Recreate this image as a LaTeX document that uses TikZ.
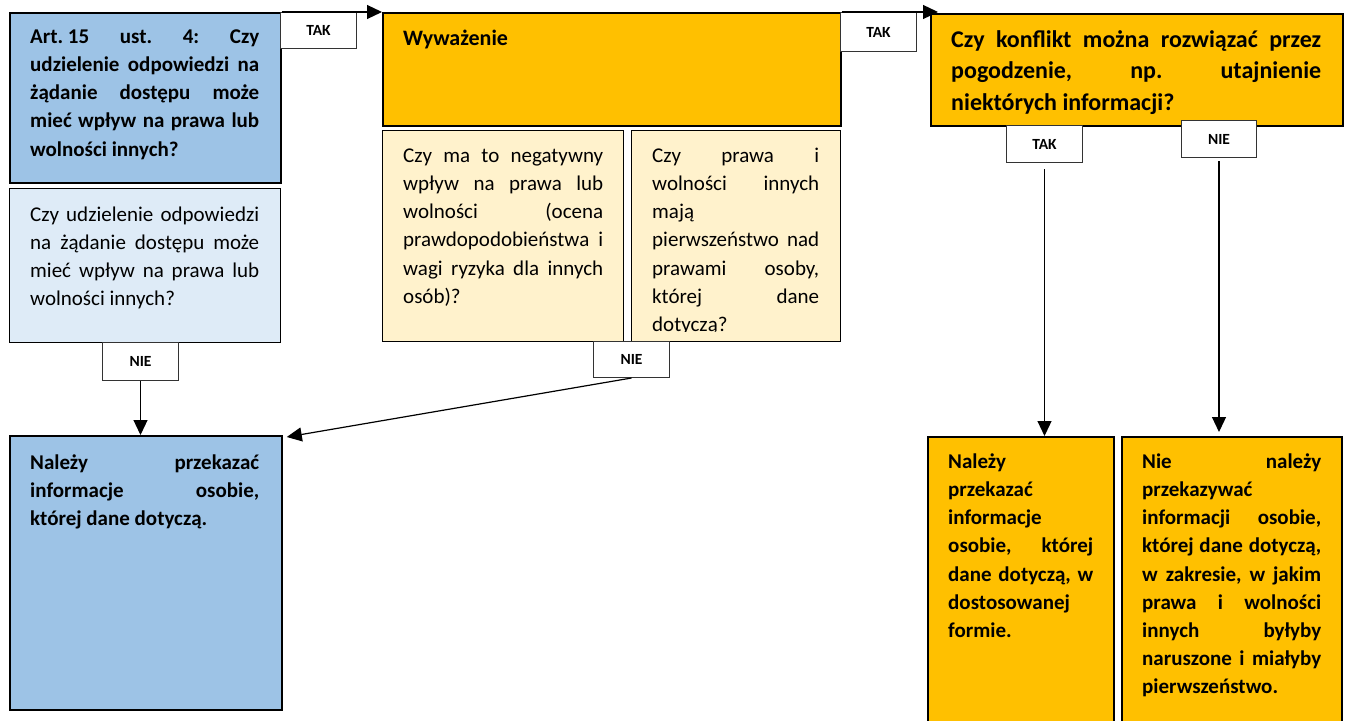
\documentclass[tikz,border=0pt]{standalone}
\usepackage{fontspec}
\setmainfont{Carlito}
\usetikzlibrary{arrows.meta}
\definecolor{blueA}{HTML}{9DC3E6}
\definecolor{blueB}{HTML}{DEEBF7}
\definecolor{orangeA}{HTML}{FFC000}
\definecolor{orangeB}{HTML}{FFF2CC}
\newcommand\fbody{\fontsize{21}{28.2}\selectfont}
\newcommand\fbig{\fontsize{24}{31.5}\selectfont}
\newcommand\fwyw{\fontsize{22}{31.5}\selectfont}
\newcommand\flab{\fontsize{15.5}{17}\selectfont\bfseries}
\hyphenpenalty=10000
\exhyphenpenalty=10000
\tolerance=10000
\hbadness=10000
\frenchspacing
\begin{document}
\begin{tikzpicture}[x=1pt,y=-1pt,
  box/.style={draw=black, line width=1.8pt, inner sep=0pt, anchor=north west},
  lbox/.style={draw=black, line width=1.2pt, inner sep=0pt, anchor=north west},
  lab/.style={draw=black!80, line width=1pt, fill=white, inner sep=0pt, anchor=north west, font=\flab},
  txt/.style={anchor=north west, inner sep=0pt, align=justify},
  arr/.style={draw=black, line width=1.2pt, -{Triangle[length=15pt,width=14pt]}}
]
\useasboundingbox (0,0) rectangle (1348,720);
\clip (0,0) rectangle (1348,720);

% boxes
\node[box, fill=blueA, minimum width=271pt, minimum height=170pt] (A) at (9,12) {};
\node[lbox, fill=blueB, minimum width=271pt, minimum height=154pt] (B) at (9,188) {};
\node[box, fill=orangeA, minimum width=458pt, minimum height=113pt] (W) at (382,12) {};
\node[box, fill=orangeA, minimum width=412pt, minimum height=112pt] (C) at (930,13) {};
\node[lbox, fill=orangeB, minimum width=241pt, minimum height=211pt] (F) at (382,130) {};
\node[lbox, fill=orangeB, minimum width=209pt, minimum height=211pt] (G) at (631,130) {};
\node[box, fill=blueA, minimum width=272pt, minimum height=274pt] (H) at (9,435) {};
\node[box, fill=orangeA, minimum width=186pt, minimum height=300pt] (D) at (927,436) {};
\node[box, fill=orangeA, minimum width=220pt, minimum height=300pt] (E) at (1121,436) {};

% labels
\node[lab, minimum width=76pt, minimum height=36pt] (T1) at (280,12) {TAK};
\node[lab, minimum width=76pt, minimum height=39pt] (T2) at (840,12) {TAK};
\node[lab, minimum width=76pt, minimum height=37pt] (T3) at (1006,125) {TAK};
\node[lab, minimum width=75pt, minimum height=37pt] (N3) at (1181,120) {NIE};
\node[lab, minimum width=76pt, minimum height=36pt] (N2) at (593,341) {NIE};
\node[lab, minimum width=76pt, minimum height=38pt] (N1) at (102,342) {NIE};

% texts (north = first baseline - 0.7*baselineskip)
\node[txt, text width=229pt, font=\fbody\bfseries] (tA) at (30,23.3)
  {\strut Art.\hspace{0.22em}15 ust. 4: Czy\linebreak udzielenie odpowiedzi na\linebreak żądanie dostępu może\linebreak mieć wpływ na prawa lub\linebreak wolności innych?};
\node[txt, text width=229pt, font=\fbody] (tB) at (30,201.3)
  {\strut Czy udzielenie odpowiedzi\linebreak na żądanie dostępu może\linebreak mieć wpływ na prawa lub\linebreak wolności innych?};
\node[txt, font=\fwyw\bfseries] (tW) at (403,23)
  {\strut Wyważenie};
\node[txt, text width=370pt, font=\fbig\bfseries] (tC) at (951,25)
  {\strut Czy konflikt można rozwiązać przez\linebreak pogodzenie, np. utajnienie\linebreak niektórych informacji?};
\node[txt, text width=200pt, font=\fbody] (tF) at (403,142.3)
  {\strut Czy ma to negatywny\linebreak wpływ na prawa lub\linebreak wolności (ocena\linebreak prawdopodobieństwa i\linebreak wagi ryzyka dla innych\linebreak osób)?};
\begin{scope}
\clip (635,131) rectangle (838,331);
\node[txt, text width=167pt, font=\fbody] (tG) at (652,142.3)
  {\strut Czy prawa i\linebreak wolności innych\linebreak mają\linebreak pierwszeństwo nad\linebreak prawami osoby,\linebreak której dane\linebreak dotyczą?};
\end{scope}
\node[txt, text width=229pt, font=\fbody\bfseries] (tH) at (30,449.3)
  {\strut Należy przekazać\linebreak informacje osobie,\linebreak której dane dotyczą.};
\node[txt, text width=145pt, font=\fbody\bfseries] (tD) at (948,448.3)
  {\strut Należy\linebreak przekazać\linebreak informacje\linebreak osobie, której\linebreak dane dotyczą, w\linebreak dostosowanej\linebreak formie.};
\node[txt, text width=179pt, font=\fbody\bfseries] (tE) at (1142,448.3)
  {\strut Nie należy\linebreak przekazywać\linebreak informacji osobie,\linebreak której dane dotyczą,\linebreak w zakresie, w jakim\linebreak prawa i wolności\linebreak innych byłyby\linebreak naruszone i miałyby\linebreak pierwszeństwo.};

% connectors
\draw[arr] (A.north east) -- (W.north west);
\draw[arr] (W.north east) -- ([xshift=8pt,yshift=1pt]C.north west);
\draw[arr] (N1.south) -- (N1.south |- H.north);
\draw[arr] (N2.south) -- ([xshift=4pt,yshift=-2pt]H.north east);
\draw[arr] ([yshift=-6pt]T3.south) -- (T3.south |- D.north);
\draw[arr] ([yshift=-3pt]N3.south) -- ([yshift=4pt]N3.south |- E.north);
\end{tikzpicture}
\end{document}
